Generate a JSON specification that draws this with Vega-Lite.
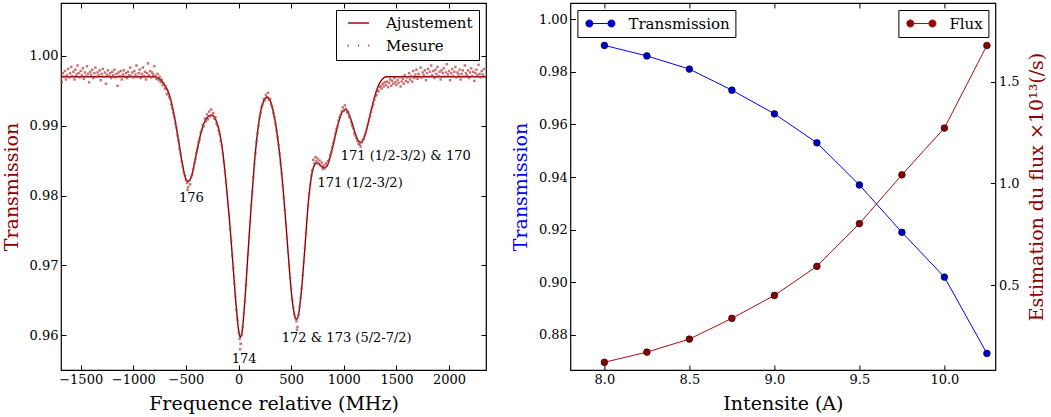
{
"$schema":"https://vega.github.io/schema/vega-lite/v6.json",
"background":"white",
"padding":{"left":1,"top":1,"right":3,"bottom":5},
"config":{
 "font":"DejaVu Serif",
 "view":{"stroke":"black","strokeWidth":1.2},
 "axis":{"labelFont":"DejaVu Serif","labelFontSize":13,"labelColor":"black","titleFont":"DejaVu Serif","titleFontSize":19,"titleFontWeight":"normal","titleColor":"black","tickColor":"black","tickSize":5,"offset":-5,"tickWidth":1,"domain":false,"grid":false,"labelPadding":3,"titlePadding":8},
 "legend":{"labelFont":"DejaVu Serif","labelFontSize":15,"labelColor":"black","strokeColor":"black","fillColor":"white","cornerRadius":0,"title":null,"offset":7,"padding":5.5,"symbolSize":225,"symbolOffset":9.5,"labelOffset":20,"rowPadding":6.6}
},
"datasets":{
"fit":[{"f":-1690,"t":0.997},{"f":-800,"t":0.997},{"f":-760,"t":0.9968},{"f":-720,"t":0.9962},{"f":-690,"t":0.9955},{"f":-660,"t":0.9945},{"f":-630,"t":0.9928},{"f":-600,"t":0.9905},{"f":-570,"t":0.9878},{"f":-540,"t":0.985},{"f":-510,"t":0.9828},{"f":-480,"t":0.982},{"f":-450,"t":0.9826},{"f":-420,"t":0.9845},{"f":-390,"t":0.9868},{"f":-360,"t":0.9888},{"f":-330,"t":0.9903},{"f":-300,"t":0.9911},{"f":-270,"t":0.9915},{"f":-240,"t":0.9914},{"f":-210,"t":0.9906},{"f":-180,"t":0.989},{"f":-150,"t":0.9862},{"f":-120,"t":0.982},{"f":-90,"t":0.9772},{"f":-60,"t":0.9715},{"f":-30,"t":0.9655},{"f":0,"t":0.9608},{"f":15,"t":0.9597},{"f":30,"t":0.9602},{"f":60,"t":0.965},{"f":90,"t":0.9718},{"f":120,"t":0.9785},{"f":150,"t":0.9845},{"f":180,"t":0.989},{"f":210,"t":0.992},{"f":240,"t":0.9936},{"f":270,"t":0.9941},{"f":300,"t":0.9936},{"f":330,"t":0.992},{"f":360,"t":0.9895},{"f":390,"t":0.986},{"f":420,"t":0.9815},{"f":450,"t":0.976},{"f":480,"t":0.97},{"f":510,"t":0.965},{"f":540,"t":0.9625},{"f":555,"t":0.9623},{"f":570,"t":0.963},{"f":600,"t":0.9668},{"f":630,"t":0.9725},{"f":660,"t":0.9785},{"f":690,"t":0.9825},{"f":720,"t":0.9843},{"f":750,"t":0.9847},{"f":780,"t":0.9843},{"f":810,"t":0.984},{"f":840,"t":0.9842},{"f":870,"t":0.9855},{"f":900,"t":0.9873},{"f":930,"t":0.9893},{"f":960,"t":0.991},{"f":990,"t":0.9921},{"f":1020,"t":0.9923},{"f":1050,"t":0.9916},{"f":1080,"t":0.9903},{"f":1110,"t":0.9888},{"f":1140,"t":0.9878},{"f":1165,"t":0.9876},{"f":1190,"t":0.9882},{"f":1220,"t":0.9897},{"f":1250,"t":0.9916},{"f":1280,"t":0.9934},{"f":1310,"t":0.995},{"f":1340,"t":0.9961},{"f":1370,"t":0.9967},{"f":1400,"t":0.997},{"f":2350,"t":0.997}],
"mes":[{"f":-1690,"m":0.9968},{"f":-1680,"m":0.9962},{"f":-1670,"m":0.9975},{"f":-1660,"m":0.997},{"f":-1650,"m":0.9978},{"f":-1640,"m":0.9966},{"f":-1630,"m":0.9972},{"f":-1620,"m":0.9981},{"f":-1610,"m":0.9969},{"f":-1600,"m":0.9975},{"f":-1590,"m":0.9984},{"f":-1580,"m":0.9971},{"f":-1570,"m":0.9977},{"f":-1560,"m":0.9966},{"f":-1550,"m":0.998},{"f":-1540,"m":0.9973},{"f":-1530,"m":0.9986},{"f":-1520,"m":0.9975},{"f":-1510,"m":0.9969},{"f":-1500,"m":0.9978},{"f":-1490,"m":0.9972},{"f":-1480,"m":0.9982},{"f":-1470,"m":0.9967},{"f":-1460,"m":0.9976},{"f":-1450,"m":0.9971},{"f":-1440,"m":0.9985},{"f":-1430,"m":0.9974},{"f":-1420,"m":0.9962},{"f":-1410,"m":0.9977},{"f":-1400,"m":0.9973},{"f":-1390,"m":0.998},{"f":-1380,"m":0.9968},{"f":-1370,"m":0.9975},{"f":-1360,"m":0.9983},{"f":-1350,"m":0.997},{"f":-1340,"m":0.9976},{"f":-1330,"m":0.9972},{"f":-1320,"m":0.9979},{"f":-1310,"m":0.9965},{"f":-1300,"m":0.9974},{"f":-1290,"m":0.9981},{"f":-1280,"m":0.997},{"f":-1270,"m":0.9976},{"f":-1260,"m":0.996},{"f":-1250,"m":0.9973},{"f":-1240,"m":0.9979},{"f":-1230,"m":0.9971},{"f":-1220,"m":0.9975},{"f":-1210,"m":0.9968},{"f":-1200,"m":0.9977},{"f":-1190,"m":0.9972},{"f":-1180,"m":0.998},{"f":-1170,"m":0.9969},{"f":-1160,"m":0.9974},{"f":-1150,"m":0.9957},{"f":-1140,"m":0.9976},{"f":-1130,"m":0.9971},{"f":-1120,"m":0.9978},{"f":-1110,"m":0.9966},{"f":-1100,"m":0.9973},{"f":-1090,"m":0.9979},{"f":-1080,"m":0.997},{"f":-1070,"m":0.9975},{"f":-1060,"m":0.9968},{"f":-1050,"m":0.9977},{"f":-1040,"m":0.9972},{"f":-1030,"m":0.9983},{"f":-1020,"m":0.9971},{"f":-1010,"m":0.9976},{"f":-1000,"m":0.9969},{"f":-990,"m":0.9978},{"f":-980,"m":0.9973},{"f":-970,"m":0.9986},{"f":-960,"m":0.997},{"f":-950,"m":0.9975},{"f":-940,"m":0.998},{"f":-930,"m":0.9968},{"f":-920,"m":0.9974},{"f":-910,"m":0.9983},{"f":-900,"m":0.9971},{"f":-890,"m":0.9977},{"f":-880,"m":0.9966},{"f":-870,"m":0.9975},{"f":-860,"m":0.9989},{"f":-850,"m":0.9972},{"f":-840,"m":0.9978},{"f":-830,"m":0.9969},{"f":-820,"m":0.9976},{"f":-810,"m":0.9973},{"f":-800,"m":0.9985},{"f":-790,"m":0.9971},{"f":-780,"m":0.9967},{"f":-770,"m":0.9974},{"f":-760,"m":0.9965},{"f":-750,"m":0.997},{"f":-740,"m":0.9962},{"f":-730,"m":0.9966},{"f":-720,"m":0.9958},{"f":-710,"m":0.996},{"f":-700,"m":0.9953},{"f":-690,"m":0.9956},{"f":-680,"m":0.9945},{"f":-670,"m":0.9949},{"f":-660,"m":0.9941},{"f":-650,"m":0.9938},{"f":-640,"m":0.993},{"f":-630,"m":0.9925},{"f":-620,"m":0.9918},{"f":-610,"m":0.9912},{"f":-600,"m":0.9903},{"f":-590,"m":0.9897},{"f":-580,"m":0.9886},{"f":-570,"m":0.9878},{"f":-560,"m":0.9867},{"f":-550,"m":0.986},{"f":-540,"m":0.9849},{"f":-530,"m":0.9842},{"f":-520,"m":0.9833},{"f":-510,"m":0.9829},{"f":-500,"m":0.9822},{"f":-490,"m":0.9818},{"f":-485,"m":0.9808},{"f":-480,"m":0.9812},{"f":-470,"m":0.9821},{"f":-460,"m":0.9816},{"f":-450,"m":0.9827},{"f":-440,"m":0.983},{"f":-430,"m":0.9838},{"f":-420,"m":0.9846},{"f":-410,"m":0.9852},{"f":-400,"m":0.9861},{"f":-390,"m":0.9867},{"f":-380,"m":0.9876},{"f":-370,"m":0.988},{"f":-360,"m":0.989},{"f":-350,"m":0.9893},{"f":-340,"m":0.9901},{"f":-330,"m":0.9899},{"f":-320,"m":0.991},{"f":-310,"m":0.9906},{"f":-300,"m":0.9916},{"f":-290,"m":0.9909},{"f":-280,"m":0.992},{"f":-270,"m":0.9913},{"f":-260,"m":0.9923},{"f":-250,"m":0.9915},{"f":-240,"m":0.9918},{"f":-230,"m":0.991},{"f":-220,"m":0.9912},{"f":-210,"m":0.9903},{"f":-200,"m":0.99},{"f":-190,"m":0.9893},{"f":-180,"m":0.9888},{"f":-170,"m":0.9878},{"f":-160,"m":0.9872},{"f":-150,"m":0.986},{"f":-140,"m":0.9848},{"f":-130,"m":0.9835},{"f":-120,"m":0.9819},{"f":-110,"m":0.9805},{"f":-100,"m":0.9788},{"f":-90,"m":0.9773},{"f":-80,"m":0.9752},{"f":-70,"m":0.9736},{"f":-60,"m":0.9714},{"f":-50,"m":0.9696},{"f":-40,"m":0.9674},{"f":-30,"m":0.9656},{"f":-20,"m":0.9636},{"f":-10,"m":0.9622},{"f":0,"m":0.9604},{"f":10,"m":0.9595},{"f":15,"m":0.958},{"f":20,"m":0.9588},{"f":30,"m":0.9601},{"f":40,"m":0.9612},{"f":50,"m":0.9631},{"f":60,"m":0.9648},{"f":70,"m":0.9672},{"f":80,"m":0.9694},{"f":90,"m":0.9716},{"f":100,"m":0.9741},{"f":110,"m":0.9763},{"f":120,"m":0.9786},{"f":130,"m":0.9805},{"f":140,"m":0.9826},{"f":150,"m":0.9845},{"f":160,"m":0.986},{"f":170,"m":0.9877},{"f":180,"m":0.9889},{"f":190,"m":0.99},{"f":200,"m":0.9912},{"f":210,"m":0.9918},{"f":220,"m":0.9927},{"f":230,"m":0.9931},{"f":240,"m":0.9938},{"f":250,"m":0.9936},{"f":260,"m":0.9944},{"f":270,"m":0.994},{"f":280,"m":0.9947},{"f":290,"m":0.9937},{"f":300,"m":0.9938},{"f":310,"m":0.993},{"f":320,"m":0.9926},{"f":330,"m":0.9918},{"f":340,"m":0.9912},{"f":350,"m":0.9903},{"f":360,"m":0.9893},{"f":370,"m":0.9884},{"f":380,"m":0.9872},{"f":390,"m":0.986},{"f":400,"m":0.9846},{"f":410,"m":0.9832},{"f":420,"m":0.9814},{"f":430,"m":0.9797},{"f":440,"m":0.9779},{"f":450,"m":0.9759},{"f":460,"m":0.974},{"f":470,"m":0.9719},{"f":480,"m":0.97},{"f":490,"m":0.9682},{"f":500,"m":0.9667},{"f":510,"m":0.9651},{"f":520,"m":0.964},{"f":530,"m":0.963},{"f":540,"m":0.9624},{"f":550,"m":0.962},{"f":555,"m":0.9608},{"f":560,"m":0.9612},{"f":570,"m":0.9629},{"f":580,"m":0.9641},{"f":590,"m":0.9654},{"f":600,"m":0.9667},{"f":610,"m":0.9686},{"f":620,"m":0.9705},{"f":630,"m":0.9725},{"f":640,"m":0.9746},{"f":650,"m":0.9766},{"f":660,"m":0.9786},{"f":670,"m":0.9803},{"f":680,"m":0.9816},{"f":690,"m":0.9828},{"f":700,"m":0.9836},{"f":710,"m":0.9851},{"f":720,"m":0.9846},{"f":730,"m":0.9855},{"f":740,"m":0.9849},{"f":750,"m":0.9853},{"f":760,"m":0.9845},{"f":770,"m":0.985},{"f":780,"m":0.9842},{"f":790,"m":0.9847},{"f":800,"m":0.9838},{"f":810,"m":0.9843},{"f":820,"m":0.9839},{"f":830,"m":0.9846},{"f":840,"m":0.9843},{"f":850,"m":0.9849},{"f":860,"m":0.9851},{"f":870,"m":0.9858},{"f":880,"m":0.9862},{"f":890,"m":0.9869},{"f":900,"m":0.9875},{"f":910,"m":0.988},{"f":920,"m":0.9888},{"f":930,"m":0.9895},{"f":940,"m":0.9899},{"f":950,"m":0.9907},{"f":960,"m":0.9912},{"f":970,"m":0.9915},{"f":980,"m":0.992},{"f":990,"m":0.9926},{"f":1000,"m":0.9921},{"f":1010,"m":0.9929},{"f":1020,"m":0.9924},{"f":1030,"m":0.9919},{"f":1040,"m":0.992},{"f":1050,"m":0.9913},{"f":1060,"m":0.9911},{"f":1070,"m":0.9905},{"f":1080,"m":0.99},{"f":1090,"m":0.9896},{"f":1100,"m":0.9889},{"f":1110,"m":0.9886},{"f":1120,"m":0.9882},{"f":1130,"m":0.9878},{"f":1140,"m":0.9874},{"f":1150,"m":0.9873},{"f":1160,"m":0.987},{"f":1170,"m":0.9876},{"f":1180,"m":0.9879},{"f":1190,"m":0.9881},{"f":1200,"m":0.9886},{"f":1210,"m":0.989},{"f":1220,"m":0.9895},{"f":1230,"m":0.9902},{"f":1240,"m":0.9908},{"f":1250,"m":0.9913},{"f":1260,"m":0.992},{"f":1270,"m":0.9926},{"f":1280,"m":0.993},{"f":1290,"m":0.9937},{"f":1300,"m":0.9942},{"f":1310,"m":0.9944},{"f":1320,"m":0.995},{"f":1330,"m":0.9949},{"f":1340,"m":0.9955},{"f":1350,"m":0.9957},{"f":1360,"m":0.9953},{"f":1370,"m":0.996},{"f":1380,"m":0.9956},{"f":1390,"m":0.9962},{"f":1400,"m":0.9958},{"f":1410,"m":0.9963},{"f":1420,"m":0.9955},{"f":1430,"m":0.9961},{"f":1440,"m":0.9966},{"f":1450,"m":0.9957},{"f":1460,"m":0.9964},{"f":1470,"m":0.996},{"f":1480,"m":0.9968},{"f":1490,"m":0.9962},{"f":1500,"m":0.9958},{"f":1510,"m":0.9965},{"f":1520,"m":0.9961},{"f":1530,"m":0.9969},{"f":1540,"m":0.9956},{"f":1550,"m":0.9963},{"f":1560,"m":0.9967},{"f":1570,"m":0.996},{"f":1580,"m":0.9972},{"f":1590,"m":0.9964},{"f":1600,"m":0.9969},{"f":1610,"m":0.9962},{"f":1620,"m":0.9975},{"f":1630,"m":0.9966},{"f":1640,"m":0.9971},{"f":1650,"m":0.9963},{"f":1660,"m":0.9978},{"f":1670,"m":0.9968},{"f":1680,"m":0.9973},{"f":1690,"m":0.998},{"f":1700,"m":0.9967},{"f":1710,"m":0.9974},{"f":1720,"m":0.997},{"f":1730,"m":0.9983},{"f":1740,"m":0.9969},{"f":1750,"m":0.9976},{"f":1760,"m":0.9972},{"f":1770,"m":0.9979},{"f":1780,"m":0.9965},{"f":1790,"m":0.9975},{"f":1800,"m":0.9981},{"f":1810,"m":0.997},{"f":1820,"m":0.9977},{"f":1830,"m":0.9986},{"f":1840,"m":0.9972},{"f":1850,"m":0.9978},{"f":1860,"m":0.9968},{"f":1870,"m":0.998},{"f":1880,"m":0.9974},{"f":1890,"m":0.9984},{"f":1900,"m":0.9971},{"f":1910,"m":0.9977},{"f":1920,"m":0.9966},{"f":1930,"m":0.9979},{"f":1940,"m":0.9975},{"f":1950,"m":0.9982},{"f":1960,"m":0.997},{"f":1970,"m":0.9976},{"f":1980,"m":0.9988},{"f":1990,"m":0.9973},{"f":2000,"m":0.9978},{"f":2010,"m":0.9965},{"f":2020,"m":0.9975},{"f":2030,"m":0.9981},{"f":2040,"m":0.9971},{"f":2050,"m":0.9977},{"f":2060,"m":0.9984},{"f":2070,"m":0.9969},{"f":2080,"m":0.9976},{"f":2090,"m":0.9973},{"f":2100,"m":0.998},{"f":2110,"m":0.9966},{"f":2120,"m":0.9974},{"f":2130,"m":0.9979},{"f":2140,"m":0.997},{"f":2150,"m":0.9986},{"f":2160,"m":0.9975},{"f":2170,"m":0.9972},{"f":2180,"m":0.9979},{"f":2190,"m":0.9968},{"f":2200,"m":0.9976},{"f":2210,"m":0.9982},{"f":2220,"m":0.9971},{"f":2230,"m":0.9977},{"f":2240,"m":0.9964},{"f":2250,"m":0.9975},{"f":2260,"m":0.998},{"f":2270,"m":0.9972},{"f":2280,"m":0.9987},{"f":2290,"m":0.9974},{"f":2300,"m":0.9969},{"f":2310,"m":0.9978},{"f":2320,"m":0.9973},{"f":2330,"m":0.9981},{"f":2340,"m":0.997}],
"ann":[{"x":-566,"y":0.9797,"label":"176"},{"x":-65,"y":0.9566,"label":"174"},{"x":410,"y":0.9596,"label":"172 & 173 (5/2-7/2)"},{"x":749,"y":0.98175,"label":"171 (1/2-3/2)"},{"x":971,"y":0.98565,"label":"171 (1/2-3/2) & 170"}],
"intens":[{"I":8.0,"T":0.990,"F":0.12},{"I":8.25,"T":0.986,"F":0.17},{"I":8.5,"T":0.981,"F":0.234},{"I":8.75,"T":0.973,"F":0.336},{"I":9.0,"T":0.964,"F":0.449},{"I":9.25,"T":0.953,"F":0.592},{"I":9.5,"T":0.937,"F":0.802},{"I":9.75,"T":0.919,"F":1.042},{"I":10.0,"T":0.902,"F":1.272},{"I":10.25,"T":0.873,"F":1.678}]
},
"spacing":84.4,
"bounds":"flush",
"resolve":{"scale":{"color":"independent"},"legend":{"color":"independent"}},
"hconcat":[
{
 "width":425,"height":367,
 "layer":[
  {"data":{"name":"fit"},"mark":{"type":"line","strokeWidth":1.4,"interpolate":"monotone","clip":true},
   "encoding":{
    "x":{"field":"f","type":"quantitative","scale":{"domain":[-1687,2351],"nice":false,"zero":false},"axis":{"orient":"bottom","values":[-1500,-1000,-500,0,500,1000,1500,2000],"format":"d","title":"Frequence relative (MHz)"}},
    "y":{"field":"t","type":"quantitative","scale":{"domain":[0.95504,1.00754],"nice":false,"zero":false},"axis":{"orient":"left","values":[0.96,0.97,0.98,0.99,1.0],"format":".2f","title":"Transmission","titleColor":"#8b0000"}},
    "color":{"datum":"Ajustement","type":"nominal","scale":{"domain":["Ajustement","Mesure"],"range":["#8b0000","#b5403f"]},
     "legend":{"orient":"top-right","encode":{"symbols":{"update":{"shape":{"signal":"datum.value === 'Ajustement' ? 'M-1.4,0L1.4,0' : 'M-1.45,0L-1.3,0M-0.08,0L0.08,0M1.3,0L1.45,0'"},"strokeWidth":{"signal":"datum.value === 'Ajustement' ? 1.4 : 2.2"},"fill":{"value":"transparent"},"opacity":{"value":1}}}}}}
   }},
  {"data":{"name":"mes"},"mark":{"type":"point","filled":true,"shape":"square","size":6,"opacity":0.75,"clip":true},
   "encoding":{
    "x":{"field":"f","type":"quantitative","scale":{"domain":[-1687,2351],"nice":false,"zero":false},"axis":{"orient":"top","labels":false,"title":null,"values":[-1500,-1000,-500,0,500,1000,1500,2000]}},
    "y":{"field":"m","type":"quantitative","scale":{"domain":[0.95504,1.00754],"nice":false,"zero":false},"axis":{"orient":"right","labels":false,"title":null,"values":[0.96,0.97,0.98,0.99,1.0]}},
    "color":{"datum":"Mesure","type":"nominal",
     "legend":{"orient":"top-right","encode":{"symbols":{"update":{"shape":{"signal":"datum.value === 'Ajustement' ? 'M-1.4,0L1.4,0' : 'M-1.45,0L-1.3,0M-0.08,0L0.08,0M1.3,0L1.45,0'"},"strokeWidth":{"signal":"datum.value === 'Ajustement' ? 1.4 : 2.2"},"fill":{"value":"transparent"},"opacity":{"value":1}}}}}}
   }},
  {"data":{"name":"ann"},"mark":{"type":"text","fontSize":13,"align":"left","baseline":"middle","font":"DejaVu Serif","color":"black"},
   "encoding":{
    "x":{"field":"x","type":"quantitative","scale":{"domain":[-1687,2351],"nice":false,"zero":false},"axis":null},
    "y":{"field":"y","type":"quantitative","scale":{"domain":[0.95504,1.00754],"nice":false,"zero":false},"axis":null},
    "text":{"field":"label"}
   }}
 ],
 "resolve":{"axis":{"x":"independent","y":"independent"}}
},
{
 "width":425,"height":367,
 "data":{"name":"intens"},
 "layer":[
  {"layer":[
    {"mark":{"type":"line","strokeWidth":1},
     "encoding":{
      "x":{"field":"I","type":"quantitative","scale":{"domain":[7.8,10.3],"nice":false,"zero":false},"axis":{"orient":"bottom","values":[8.0,8.5,9.0,9.5,10.0],"format":".1f","title":"Intensite (A)"}},
      "y":{"field":"T","type":"quantitative","scale":{"domain":[0.8667,1.0061],"nice":false,"zero":false},"axis":{"orient":"left","values":[0.88,0.90,0.92,0.94,0.96,0.98,1.0],"format":".2f","title":"Transmission","titleColor":"#0000ff"}},
      "color":{"datum":"Transmission","type":"nominal","scale":{"range":["#0000ff"]},
       "legend":{"orient":"top-left","encode":{"symbols":{"update":{"shape":{"value":"M-1.47,0L1.47,0M-1.94,0a0.47,0.47 0 1,0 0.94,0a0.47,0.47 0 1,0 -0.94,0M1.0,0a0.47,0.47 0 1,0 0.94,0a0.47,0.47 0 1,0 -0.94,0"},"fill":{"value":"#0000cc"},"stroke":{"value":"#0000ff"},"strokeWidth":{"value":1},"opacity":{"value":1}}}}}}
     }},
    {"mark":{"type":"point","filled":true,"size":45,"color":"#0000cc","stroke":"black","strokeWidth":0.6,"opacity":1},
     "encoding":{
      "x":{"field":"I","type":"quantitative"},
      "y":{"field":"T","type":"quantitative"}
     }}
  ]},
  {"layer":[
    {"mark":{"type":"line","strokeWidth":1},
     "encoding":{
      "x":{"field":"I","type":"quantitative","scale":{"domain":[7.8,10.3],"nice":false,"zero":false},"axis":{"orient":"top","labels":false,"title":null,"values":[8.0,8.5,9.0,9.5,10.0]}},
      "y":{"field":"F","type":"quantitative","scale":{"domain":[0.082,1.887],"nice":false,"zero":false},"axis":{"orient":"right","values":[0.5,1.0,1.5],"format":".1f","title":"Estimation du flux ×10¹³(/s)","titleColor":"#8b0000","titleAngle":270,"titleBaseline":"top","titlePadding":8}},
      "color":{"datum":"Flux","type":"nominal","scale":{"range":["#a01010"]},
       "legend":{"orient":"top-right","encode":{"symbols":{"update":{"shape":{"value":"M-1.47,0L1.47,0M-1.94,0a0.47,0.47 0 1,0 0.94,0a0.47,0.47 0 1,0 -0.94,0M1.0,0a0.47,0.47 0 1,0 0.94,0a0.47,0.47 0 1,0 -0.94,0"},"fill":{"value":"#8b0000"},"stroke":{"value":"#a01010"},"strokeWidth":{"value":1},"opacity":{"value":1}}}}}}
     }},
    {"mark":{"type":"point","filled":true,"size":45,"color":"#8b0000","stroke":"black","strokeWidth":0.6,"opacity":1},
     "encoding":{
      "x":{"field":"I","type":"quantitative"},
      "y":{"field":"F","type":"quantitative"}
     }}
  ]}
 ],
 "resolve":{"scale":{"y":"independent","color":"independent"},"axis":{"x":"independent","y":"independent"},"legend":{"color":"independent"}}
}
]
}
